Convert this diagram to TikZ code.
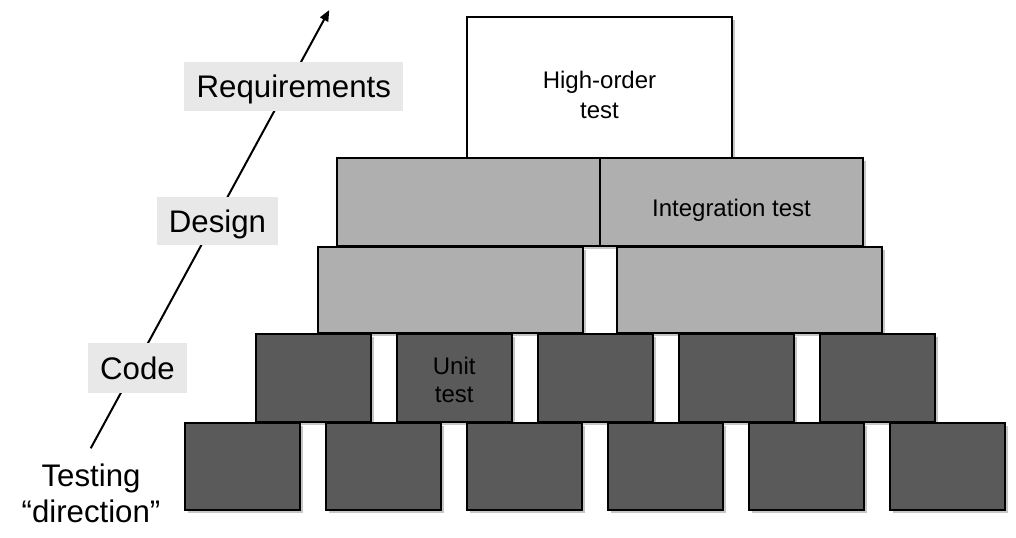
\documentclass[tikz,border=0pt]{standalone}
\usepackage{fontspec}
\setmainfont{Liberation Sans}
\usetikzlibrary{shadows,arrows.meta}
\definecolor{lightbrick}{HTML}{AFAFAF}
\definecolor{darkbrick}{HTML}{5A5A5A}
\definecolor{tagbg}{HTML}{E8E8E8}
\newcommand\twolines[2]{\begin{tabular}{@{}c@{}}#1\\#2\end{tabular}}
\newcommand\lowered[2]{\raisebox{-#1}[\height][\depth]{#2}}
\begin{document}
\begin{tikzpicture}[x=0.5pt,y=-0.5pt,
  brick/.style={draw=black, line width=1pt, inner sep=0pt,
    font=\fontsize{12}{15}\selectfont,
    drop shadow={shadow xshift=1.6pt, shadow yshift=-1.6pt, opacity=0.45}},
  toppiece/.style={brick, fill=white, minimum width=132.5pt, minimum height=70.5pt},
  widepiece/.style={brick, fill=lightbrick, minimum width=131.5pt},
  smallpiece/.style={brick, fill=darkbrick, minimum width=57.25pt},
  tag/.style={fill=tagbg, inner sep=0pt, font=\fontsize{15.6}{18}\selectfont,
    text height=11.1pt, text depth=0pt},
  direction/.style={line width=1pt, -{Triangle[length=5.5pt,width=4.5pt]}}
]
\useasboundingbox (0,0) rectangle (1016,537);

% testing direction arrow
\coordinate (tail) at (90.7,448.3);
\coordinate (tip) at (329.3,10);
\draw[direction] (tail) -- (tip);

\node[tag, minimum width=109.5pt, minimum height=24.2pt] (req) at (293.8,86.5) {Requirements};
\node[tag, minimum width=60.8pt, minimum height=24.2pt] (des) at (217.5,221) {Design};
\node[tag, minimum width=49.2pt, minimum height=24.8pt] (code) at (137.5,368) {Code};
\node[font=\fontsize{15.6}{18}\selectfont, align=center, inner sep=0pt] (testdir) at (91,493.5) {Testing\\“direction”};

% top
\node[toppiece] (high) at (599.5,87.5) {\lowered{5pt}{\twolines{High-order}{test}}};

% integration row
\node[widepiece, minimum height=43.75pt] (int1) at (468.5,201.75) {};
\node[widepiece, minimum height=43.75pt] (int2) at (731.5,201.75) {\lowered{4.5pt}{Integration test}};

% third row
\node[widepiece, minimum width=132.5pt, minimum height=43.25pt] (mid1) at (450.5,289.75) {};
\node[widepiece, minimum width=132.5pt, minimum height=43.25pt] (mid2) at (749.5,289.75) {};

% unit row 1
\node[smallpiece, minimum height=44pt] (u1) at (313.25,378) {};
\node[smallpiece, minimum height=44pt] (u2) at (454.25,378) {\lowered{2.5pt}{\fontsize{12}{14}\selectfont\twolines{Unit}{test}}};
\node[smallpiece, minimum height=44pt] (u3) at (595.25,378) {};
\node[smallpiece, minimum height=44pt] (u4) at (736.25,378) {};
\node[smallpiece, minimum height=44pt] (u5) at (877.25,378) {};

% unit row 2
\node[smallpiece, minimum height=43.75pt] (b1) at (242.5,466.25) {};
\node[smallpiece, minimum height=43.75pt] (b2) at (383.5,466.25) {};
\node[smallpiece, minimum height=43.75pt] (b3) at (524.5,466.25) {};
\node[smallpiece, minimum height=43.75pt] (b4) at (665.5,466.25) {};
\node[smallpiece, minimum height=43.75pt] (b5) at (806.5,466.25) {};
\node[smallpiece, minimum height=43.75pt] (b6) at (947.5,466.25) {};
\end{tikzpicture}
\end{document}
